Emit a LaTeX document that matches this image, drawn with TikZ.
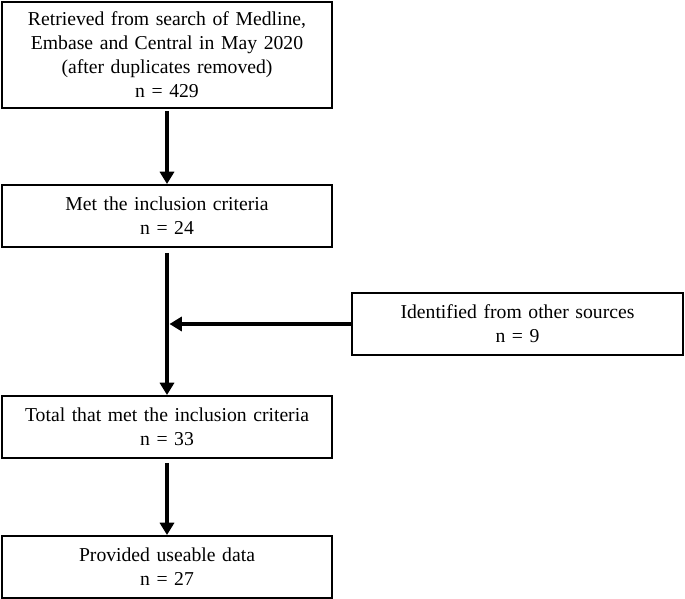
\documentclass[tikz,border=0pt]{standalone}
\usepackage{fontspec}
\setmainfont{Liberation Serif}
\usetikzlibrary{arrows.meta}
\usetikzlibrary{calc}

\begin{document}
\begin{tikzpicture}[
    box/.style={draw, line width=1.1pt, align=center, text width=6.3cm,
      minimum width=6.6cm, inner sep=0pt, font=\fontsize{11.2}{13.6}\selectfont},
    flow/.style={line width=1.8pt, -{Triangle[width=8pt,length=7pt]}}
  ]
  % Frame
  \useasboundingbox (0,0) rectangle (13.7,-11.98);

  % Boxes
  \node[box, minimum height=2.12cm] (search) at (3.34,-1.1)
    {Retrieved from search of Medline,\\ Embase and Central in May 2020\\ (after duplicates removed)\\ n = 429};
  \node[box, minimum height=1.24cm] (met) at (3.34,-4.32)
    {Met the inclusion criteria\\ n = 24};
  \node[box, minimum height=1.24cm, minimum width=6.62cm] (other) at (10.35,-6.48)
    {Identified from other sources\\ n = 9};
  \node[box, minimum height=1.24cm] (total) at (3.34,-8.54)
    {Total that met the inclusion criteria\\ n = 33};
  \node[box, minimum height=1.24cm] (data) at (3.34,-11.34)
    {Provided useable data\\ n = 27};

  % Join point on the main line
  \coordinate (join) at (met.south |- other.west);

  % Arrows
  \draw[flow] ([yshift=-0.04cm]search.south) -- (met.north);
  \draw[line width=1.8pt] ([yshift=-0.1cm]met.south) -- (join);
  \draw[flow] (join) -- (total.north);
  \draw[flow] (other.west) -- ([xshift=0.05cm]join);
  \draw[flow] ([yshift=-0.08cm]total.south) -- (data.north);

\end{tikzpicture}
\end{document}
